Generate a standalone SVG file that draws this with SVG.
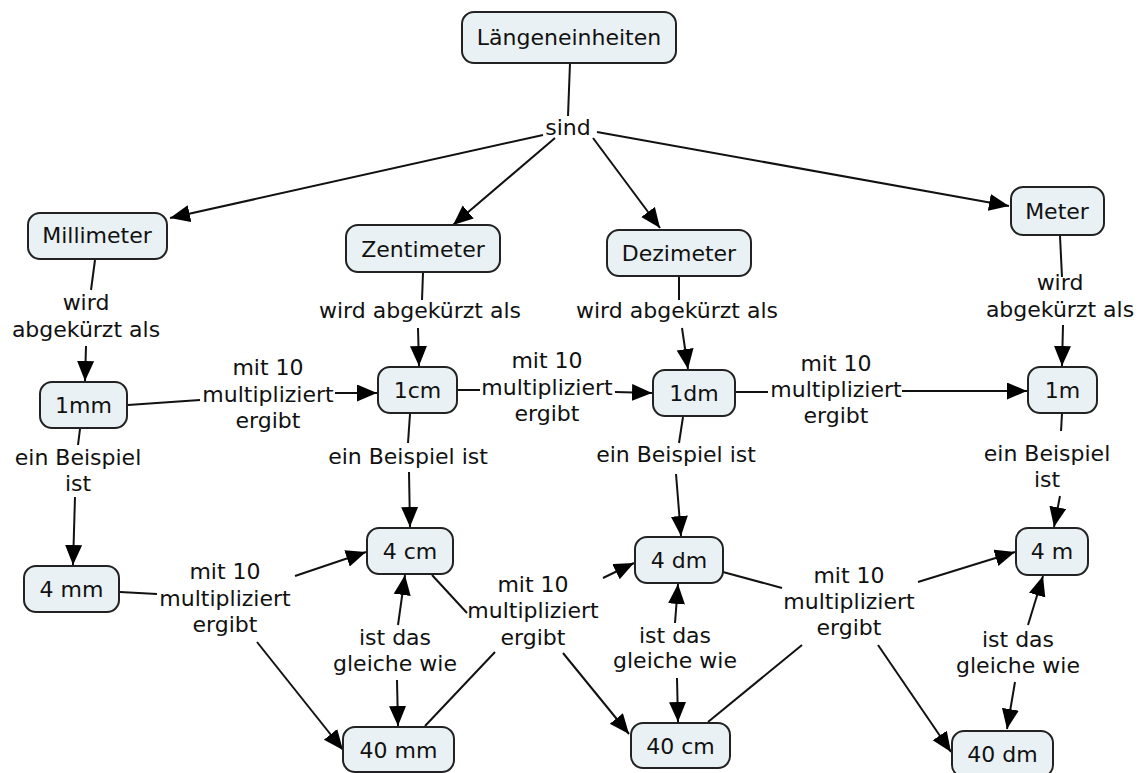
<svg xmlns="http://www.w3.org/2000/svg" width="1141" height="773" viewBox="0 0 1141 773">
<style>
.n rect{fill:#e9f1f4;stroke:#222;stroke-width:2}
text{font-family:"DejaVu Sans","Liberation Sans",sans-serif;font-size:22px;fill:#111;text-anchor:middle}
.c line{stroke:#111;stroke-width:2}
.c .a{marker-end:url(#ah)}
</style>
<defs>
<marker id="ah" markerUnits="userSpaceOnUse" markerWidth="22" markerHeight="18" refX="20" refY="8.5" orient="auto"><path d="M0,0 L20,8.5 L0,17 z" fill="#000"/></marker>
</defs>
<rect width="1141" height="773" fill="#fff"/>
<g class="c" id="connectors">
<line x1="570" y1="63" x2="568" y2="116"/>
<line class="a" x1="543" y1="135" x2="170" y2="218"/>
<line class="a" x1="555" y1="138" x2="453" y2="225"/>
<line class="a" x1="593" y1="138" x2="660" y2="228"/>
<line class="a" x1="597" y1="132" x2="1009" y2="206"/>
<line x1="95" y1="260" x2="91" y2="290"/>
<line x1="423" y1="273" x2="422" y2="300"/>
<line x1="679" y1="277" x2="679" y2="300"/>
<line x1="1060" y1="236" x2="1062" y2="277"/>
<line class="a" x1="86" y1="346" x2="85" y2="381"/>
<line class="a" x1="418" y1="328" x2="419" y2="366"/>
<line class="a" x1="682" y1="328" x2="688" y2="369"/>
<line class="a" x1="1063" y1="325" x2="1062" y2="366"/>
<line x1="128" y1="405" x2="200" y2="400"/>
<line class="a" x1="335" y1="393" x2="377" y2="393"/>
<line x1="458" y1="390" x2="480" y2="390"/>
<line class="a" x1="615" y1="392" x2="652" y2="393"/>
<line x1="736" y1="392" x2="768" y2="392"/>
<line class="a" x1="902" y1="391" x2="1027" y2="391"/>
<line x1="80" y1="429" x2="78" y2="445"/>
<line class="a" x1="75" y1="497" x2="73" y2="565"/>
<line x1="410" y1="414" x2="408" y2="443"/>
<line class="a" x1="409" y1="472" x2="410" y2="527"/>
<line x1="683" y1="417" x2="679" y2="443"/>
<line class="a" x1="676" y1="474" x2="681" y2="536"/>
<line x1="1062" y1="414" x2="1061" y2="431"/>
<line class="a" x1="1060" y1="496" x2="1054" y2="527"/>
<line x1="120" y1="592" x2="157" y2="594"/>
<line class="a" x1="295" y1="576" x2="366" y2="552"/>
<line class="a" x1="257" y1="642" x2="343" y2="750"/>
<line x1="432" y1="575" x2="467" y2="613"/>
<line x1="425" y1="726" x2="495" y2="652"/>
<line class="a" x1="603" y1="578" x2="634" y2="563"/>
<line class="a" x1="563" y1="653" x2="629" y2="734"/>
<line x1="723" y1="572" x2="782" y2="588"/>
<line x1="708" y1="722" x2="802" y2="645"/>
<line class="a" x1="918" y1="582" x2="1015" y2="552"/>
<line class="a" x1="878" y1="645" x2="951" y2="752"/>
<line class="a" x1="398" y1="625" x2="405" y2="575"/>
<line class="a" x1="397" y1="680" x2="398" y2="726"/>
<line class="a" x1="675" y1="623" x2="678" y2="584"/>
<line class="a" x1="677" y1="678" x2="678" y2="722"/>
<line class="a" x1="1028" y1="625" x2="1043" y2="576"/>
<line class="a" x1="1015" y1="682" x2="1007" y2="729"/>
</g>
<g id="labels">
<text x="568" y="135">sind</text>
<text x="86" y="310">wird</text><text x="86" y="337">abgekürzt als</text>
<text x="420" y="318">wird abgekürzt als</text>
<text x="677" y="318">wird abgekürzt als</text>
<text x="1060" y="290">wird</text><text x="1060" y="317">abgekürzt als</text>
<text x="268" y="375">mit 10</text><text x="268" y="402">multipliziert</text><text x="268" y="428">ergibt</text>
<text x="547" y="368">mit 10</text><text x="547" y="395">multipliziert</text><text x="547" y="421">ergibt</text>
<text x="836" y="371">mit 10</text><text x="836" y="397">multipliziert</text><text x="836" y="423">ergibt</text>
<text x="78" y="465">ein Beispiel</text><text x="78" y="491">ist</text>
<text x="408" y="464">ein Beispiel ist</text>
<text x="676" y="462">ein Beispiel ist</text>
<text x="1047" y="461">ein Beispiel</text><text x="1047" y="487">ist</text>
<text x="225" y="579">mit 10</text><text x="225" y="606">multipliziert</text><text x="225" y="632">ergibt</text>
<text x="533" y="592">mit 10</text><text x="533" y="618">multipliziert</text><text x="533" y="645">ergibt</text>
<text x="849" y="583">mit 10</text><text x="849" y="609">multipliziert</text><text x="849" y="635">ergibt</text>
<text x="395" y="645">ist das</text><text x="395" y="671">gleiche wie</text>
<text x="675" y="643">ist das</text><text x="675" y="668">gleiche wie</text>
<text x="1018" y="647">ist das</text><text x="1018" y="673">gleiche wie</text>
</g>
<g id="n-laengeneinheiten" class="n"><rect x="462" y="12" width="214" height="51" rx="12"/><text x="569" y="45">Längeneinheiten</text></g>
<g id="n-millimeter" class="n"><rect x="28" y="213" width="139" height="46" rx="12"/><text x="97" y="243">Millimeter</text></g>
<g id="n-zentimeter" class="n"><rect x="346" y="225" width="154" height="47" rx="12"/><text x="423" y="257">Zentimeter</text></g>
<g id="n-dezimeter" class="n"><rect x="607" y="230" width="144" height="46" rx="12"/><text x="679" y="261">Dezimeter</text></g>
<g id="n-meter" class="n"><rect x="1011" y="187" width="93" height="48" rx="12"/><text x="1057" y="219">Meter</text></g>
<g id="n-1mm" class="n"><rect x="40" y="382" width="87" height="46" rx="12"/><text x="83.5" y="413">1mm</text></g>
<g id="n-1cm" class="n"><rect x="378" y="367" width="79" height="46" rx="12"/><text x="417.5" y="398">1cm</text></g>
<g id="n-1dm" class="n"><rect x="653" y="370" width="82" height="46" rx="12"/><text x="694" y="401">1dm</text></g>
<g id="n-1m" class="n"><rect x="1028" y="367" width="69" height="46" rx="12"/><text x="1062.5" y="398">1m</text></g>
<g id="n-4mm" class="n"><rect x="24" y="566" width="95" height="46" rx="12"/><text x="71.5" y="597">4 mm</text></g>
<g id="n-4cm" class="n"><rect x="367" y="528" width="86" height="46" rx="12"/><text x="410" y="559">4 cm</text></g>
<g id="n-40mm" class="n"><rect x="343" y="727" width="111" height="45" rx="12"/><text x="398.5" y="758">40 mm</text></g>
<g id="n-4dm" class="n"><rect x="635" y="537" width="88" height="46" rx="12"/><text x="679" y="568">4 dm</text></g>
<g id="n-40cm" class="n"><rect x="631" y="723" width="99" height="45" rx="12"/><text x="680.5" y="754">40 cm</text></g>
<g id="n-4m" class="n"><rect x="1016" y="528" width="72" height="47" rx="12"/><text x="1052" y="559">4 m</text></g>
<g id="n-40dm" class="n"><rect x="952" y="731" width="101" height="46" rx="12"/><text x="1002.5" y="762">40 dm</text></g>
</svg>
